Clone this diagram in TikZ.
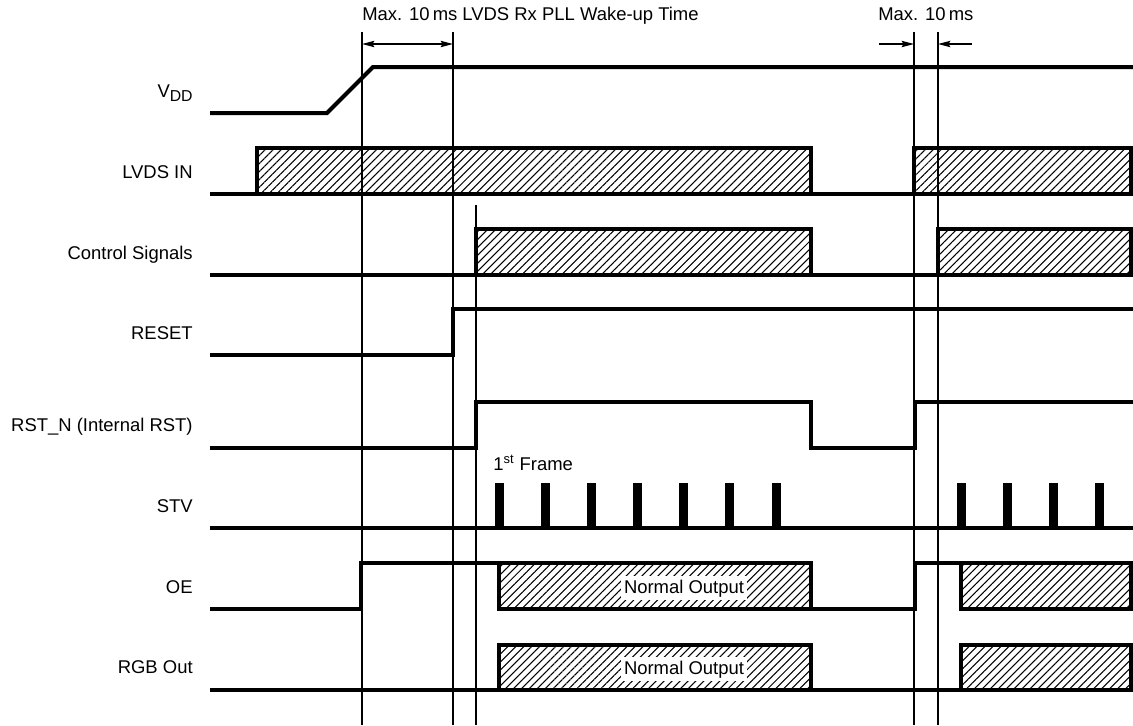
\documentclass[tikz,border=0pt]{standalone}
\usepackage{fontspec}
\setmainfont{Liberation Sans}
\usetikzlibrary{arrows.meta,patterns.meta}
\def\hatchbox(#1)(#2){\draw[line width=0.8mm, pattern={Lines[angle=45,distance=3.2pt,line width=0.6pt]}] (#1) rectangle (#2);}
\tikzset{
	sig/.style={line width=0.8mm},
	guide/.style={line width=0.3mm},
	lbl/.style={inner sep=0pt, font=\fontsize{10.5}{12}\selectfont},
	dim/.style={line width=0.3mm, {Stealth[length=7pt,width=3.6pt,inset=1pt]}-{Stealth[length=7pt,width=3.6pt,inset=1pt]}},
	dimr/.style={line width=0.3mm, -{Stealth[length=7pt,width=3.6pt,inset=1pt]}}
}

\begin{document}
\begin{tikzpicture}[x=0.02cm, y=-0.02cm]
			%%%%% START %%%%%
			\useasboundingbox (0, 0) rectangle (1133, 725);
			
			% signal names
			\node[lbl, anchor=base east] (vdd) at (193, 97) {V\raisebox{-0.45ex}{\fontsize{9}{10}\selectfont DD}};
			\node[lbl, anchor=base east] (lvds) at (193, 178) {LVDS IN};
			\node[lbl, anchor=base east] (ctrl) at (193, 259) {Control Signals};
			\node[lbl, anchor=base east] (reset) at (193, 339) {RESET};
			\node[lbl, anchor=base east] (rstn) at (193, 431) {RST\_N (Internal RST)};
			\node[lbl, anchor=base east] (stv) at (193, 512) {STV};
			\node[lbl, anchor=base east] (oe) at (193, 593) {OE};
			\node[lbl, anchor=base east] (rgb) at (193, 673) {RGB Out};
			
			% VDD
			\draw[sig] (210, 113) -- (327, 113) -- (373, 67) -- (1133, 67);
			
			% LVDS IN
			\draw[sig] (210, 194) -- (1133, 194);
			\hatchbox(257, 148)(811, 194);
			\hatchbox(914, 148)(1131, 194);
			
			% Control Signals
			\draw[sig] (210, 275) -- (1133, 275);
			\hatchbox(476, 229)(811, 275);
			\hatchbox(938, 229)(1131, 275);
			
			% RESET
			\draw[sig] (210, 355) -- (453, 355) -- (453, 309) -- (1133, 309);
			
			% RST_N
			\draw[sig] (210, 448) -- (476, 448) -- (476, 402) -- (811, 402) -- (811, 448) -- (915, 448) -- (915, 402) -- (1133, 402);
			
			% STV
			\draw[sig] (210, 528) -- (1133, 528);
			\foreach \x in {0,...,6}
				\fill (499+46.17*\x-4.5, 483) rectangle (499+46.17*\x+4.5, 528);
			\foreach \x in {0,...,3}
				\fill (961+46*\x-4.5, 483) rectangle (961+46*\x+4.5, 528);
			\node[lbl, anchor=base west] (frame) at (493, 470) {1\textsuperscript{st} Frame};
			
			% OE
			\draw[sig] (210, 609) -- (361, 609) -- (361, 563) -- (499, 563);
			\hatchbox(499, 563)(811, 609);
			\draw[sig] (811, 609) -- (915, 609) -- (915, 563) -- (961, 563);
			\hatchbox(961, 563)(1131, 609);
			\node[lbl, fill=white, inner sep=2pt, anchor=base] (oeout) at (684, 593) {Normal Output};
			
			% RGB Out
			\draw[sig] (210, 690) -- (1133, 690);
			\hatchbox(499, 645)(811, 690);
			\hatchbox(961, 645)(1131, 690);
			\node[lbl, fill=white, inner sep=2pt, anchor=base] (rgbout) at (684, 674) {Normal Output};
			
			% timing guides
			\draw[guide] (362, 32) -- (362, 725);
			\draw[guide] (453, 32) -- (453, 725);
			\draw[guide] (476, 205) -- (476, 725);
			\draw[guide] (914, 32) -- (914, 725);
			\draw[guide] (938, 32) -- (938, 725);
			
			% dimensions
			\coordinate (pllA) at (362, 44);
			\coordinate (pllB) at (453, 44);
			\draw[dim] (pllA) -- (pllB);
			\node[lbl, anchor=base west] (pll) at (362, 20) {Max. 10\,ms LVDS Rx PLL Wake-up Time};
			
			\coordinate (rstA) at (914, 44);
			\coordinate (rstB) at (938, 44);
			\coordinate (rstAin) at (879, 44);
			\coordinate (rstBin) at (972, 44);
			\draw[dimr] (rstAin) -- (rstA);
			\draw[dimr] (rstBin) -- (rstB);
			\node[lbl, anchor=base west] (rst) at (878, 20) {Max. 10\,ms};
			
			%%%%% END %%%%%
\end{tikzpicture}
\end{document}
